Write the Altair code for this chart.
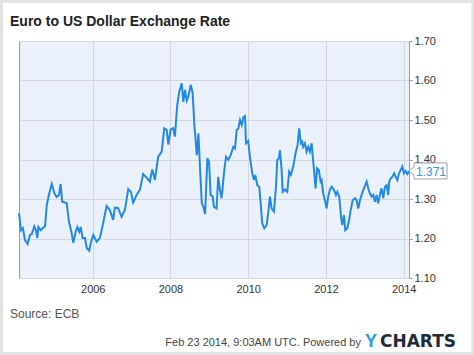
import altair as alt
import pandas as pd

title_text = "Euro to US Dollar Exchange Rate"
source_text = "Source: ECB"
footer_text = "Feb 23 2014, 9:03AM UTC.  Powered by"

dates = [
    "2004-02-08", "2004-02-27", "2004-03-16", "2004-04-04", "2004-04-29", "2004-05-21", "2004-06-07", "2004-07-01",
    "2004-07-17", "2004-07-29", "2004-08-08", "2004-08-30", "2004-09-24", "2004-10-10", "2004-10-26", "2004-11-19",
    "2004-12-12",
    "2005-01-05", "2005-01-27", "2005-02-18", "2005-03-05", "2005-03-20", "2005-04-15", "2005-05-01", "2005-05-22",
    "2005-06-17", "2005-07-02", "2005-07-25", "2005-08-09", "2005-08-28", "2005-09-10", "2005-09-28", "2005-10-20",
    "2005-11-05", "2005-11-29", "2005-12-15",
    "2006-01-06", "2006-02-07", "2006-03-09", "2006-04-09", "2006-05-11", "2006-06-11", "2006-07-12", "2006-07-28",
    "2006-08-28", "2006-09-29", "2006-10-30", "2006-12-01", "2006-12-26",
    "2007-01-16", "2007-02-17", "2007-03-20", "2007-04-20", "2007-05-22", "2007-06-22", "2007-07-14", "2007-08-08",
    "2007-09-08", "2007-10-11", "2007-11-04", "2007-11-27", "2007-12-12",
    "2008-01-03", "2008-01-27", "2008-02-12", "2008-03-05", "2008-03-24", "2008-04-16", "2008-05-01", "2008-05-17",
    "2008-06-02", "2008-06-17", "2008-07-10", "2008-07-28", "2008-08-13", "2008-09-05", "2008-09-20", "2008-10-06",
    "2008-10-22", "2008-11-06", "2008-11-22", "2008-12-13", "2008-12-29",
    "2009-01-13", "2009-02-01", "2009-02-13", "2009-03-10", "2009-03-25", "2009-04-10", "2009-04-26", "2009-05-18",
    "2009-06-06", "2009-06-28", "2009-07-20", "2009-08-14", "2009-08-30", "2009-09-15", "2009-09-30", "2009-10-16",
    "2009-11-01", "2009-11-16", "2009-12-02", "2009-12-11",
    "2010-01-01", "2010-01-17", "2010-02-08", "2010-02-24", "2010-03-08", "2010-03-27", "2010-04-15", "2010-04-28",
    "2010-05-13", "2010-06-01", "2010-06-23", "2010-07-08", "2010-07-24", "2010-08-09", "2010-08-31", "2010-09-19",
    "2010-10-01", "2010-10-17", "2010-10-26", "2010-11-11", "2010-11-21", "2010-12-12",
    "2011-01-03", "2011-01-21", "2011-02-06", "2011-02-28", "2011-03-22", "2011-04-10", "2011-04-25", "2011-05-11",
    "2011-05-23", "2011-06-02", "2011-06-18", "2011-07-04", "2011-07-19", "2011-08-04", "2011-08-20", "2011-09-04",
    "2011-09-13", "2011-09-26", "2011-10-11", "2011-10-27", "2011-11-12", "2011-11-22", "2011-12-07", "2011-12-26",
    "2012-01-08", "2012-01-23", "2012-02-08", "2012-02-24", "2012-03-17", "2012-04-05", "2012-04-17", "2012-05-06",
    "2012-05-22", "2012-06-03", "2012-06-19", "2012-07-01", "2012-07-20", "2012-08-05", "2012-08-21", "2012-09-09",
    "2012-09-30", "2012-10-16", "2012-10-31", "2012-11-16", "2012-12-11",
    "2013-01-02", "2013-01-18", "2013-02-02", "2013-02-18", "2013-03-06", "2013-03-21", "2013-04-06", "2013-04-21",
    "2013-05-06", "2013-05-22", "2013-06-07", "2013-06-23", "2013-07-09", "2013-07-25", "2013-08-09", "2013-08-18",
    "2013-08-31", "2013-09-15", "2013-10-04", "2013-10-18", "2013-11-02", "2013-11-18", "2013-12-04", "2013-12-19",
    "2014-01-03", "2014-01-19", "2014-02-04", "2014-02-20",
]

values = [
    1.264, 1.221, 1.226, 1.196, 1.186, 1.209, 1.211, 1.231, 1.221, 1.201, 1.229, 1.221, 1.228, 1.231, 1.285, 1.315,
    1.338,
    1.315, 1.305, 1.310, 1.338, 1.293, 1.291, 1.290, 1.243, 1.214, 1.189, 1.217, 1.229, 1.217, 1.229, 1.201, 1.201,
    1.176, 1.169, 1.190,
    1.209, 1.192, 1.201, 1.239, 1.282, 1.272, 1.247, 1.278, 1.277, 1.255, 1.272, 1.325, 1.318,
    1.291, 1.310, 1.323, 1.363, 1.354, 1.344, 1.375, 1.348, 1.407, 1.420, 1.479, 1.475, 1.438,
    1.476, 1.479, 1.458, 1.538, 1.572, 1.593, 1.546, 1.576, 1.549, 1.559, 1.589, 1.568, 1.487, 1.411, 1.466, 1.373,
    1.289, 1.280, 1.262, 1.403, 1.394,
    1.310, 1.306, 1.280, 1.276, 1.356, 1.323, 1.302, 1.365, 1.407, 1.399, 1.411, 1.432, 1.428, 1.475, 1.478, 1.500,
    1.487, 1.507, 1.510, 1.441,
    1.447, 1.407, 1.365, 1.348, 1.361, 1.335, 1.331, 1.289, 1.238, 1.226, 1.234, 1.264, 1.306, 1.276, 1.268, 1.331,
    1.399, 1.403, 1.424, 1.373, 1.318, 1.324,
    1.318, 1.369, 1.361, 1.382, 1.416, 1.437, 1.479, 1.441, 1.445, 1.432, 1.441, 1.420, 1.432, 1.420, 1.441, 1.394,
    1.369, 1.327, 1.378, 1.373, 1.344, 1.348, 1.314, 1.293,
    1.276, 1.306, 1.324, 1.331, 1.323, 1.310, 1.318, 1.306, 1.255, 1.234, 1.259, 1.221, 1.226, 1.245, 1.272, 1.297,
    1.302, 1.297, 1.276, 1.297, 1.318,
    1.333, 1.344, 1.327, 1.314, 1.306, 1.310, 1.293, 1.310, 1.289, 1.310, 1.327, 1.302, 1.331, 1.335, 1.310, 1.344,
    1.352, 1.356, 1.365, 1.356, 1.348, 1.365, 1.373, 1.382,
    1.365, 1.371, 1.363, 1.371,
]

y_ticks = [1.10, 1.20, 1.30, 1.40, 1.50, 1.60, 1.70]
x_tick_years = [2006, 2008, 2010, 2012, 2014]

df = pd.DataFrame({"date": dates, "value": values})
last_df = df.tail(1)

FONT = "Liberation Sans"
LINE_BLUE = "#2189e3"

x_scale = alt.Scale(
    domain=[alt.DateTime(year=2004, month=2, date=8, utc=True),
            alt.DateTime(year=2014, month=2, date=20, utc=True)]
)
y_scale = alt.Scale(domain=[1.10, 1.70], zero=False, nice=False)

x_enc = alt.X(
    "date:T",
    scale=x_scale,
    title=None,
    axis=alt.Axis(
        values=[alt.DateTime(year=yr, month=1, date=1, utc=True) for yr in x_tick_years],
        format="%Y",
        grid=True,
        gridColor="#d3d8e0",
        domain=False,
        ticks=False,
        labelPadding=5,
        labelFlush=False,
        labelOverlap=False,
        labelFont=FONT,
        labelFontSize=11,
        labelColor="#333333",
    ),
)
y_enc = alt.Y(
    "value:Q",
    scale=y_scale,
    title=None,
    axis=alt.Axis(
        orient="right",
        values=y_ticks,
        tickCount=7,
        format=".2f",
        grid=True,
        gridColor="#d3d8e0",
        domain=False,
        ticks=True,
        tickSize=3,
        tickColor="#999999",
        labelPadding=2,
        labelOverlap=False,
        labelFlush=False,
        labelFont=FONT,
        labelFontSize=11,
        labelColor="#333333",
    ),
)

base = alt.Chart(df)

line = base.mark_line(color=LINE_BLUE, strokeWidth=2).encode(x=x_enc, y=y_enc)

badge = alt.Chart(last_df).mark_point(
    shape="M0,0 L0.625,-0.5 L0.625,-1 L4.75,-1 L4.75,1 L0.625,1 L0.625,0.5 Z",
    size=256,
    filled=True,
    fill="white",
    stroke="#a0a0a0",
    strokeWidth=1,
    opacity=1,
).encode(x=x_enc, y=y_enc)

badge_text = alt.Chart(last_df).mark_text(
    dx=22, dy=1, align="center", baseline="middle", font=FONT, fontSize=12, color="#3a8fe3"
).encode(x=x_enc, y=y_enc, text=alt.Text("value:Q", format=".3f"))

ann = alt.Chart(pd.DataFrame({"k": [0]}))

frame = ann.mark_rect(fillOpacity=0, stroke="#e2e2e2", strokeWidth=3).encode(
    x=alt.value(-17.5), x2=alt.value(454), y=alt.value(-39.5), y2=alt.value(312.5)
)

title = ann.mark_text(
    align="left", baseline="alphabetic", font=FONT, fontSize=14, fontWeight="bold", color="#222222"
).encode(x=alt.value(-9), y=alt.value(-15), text=alt.value(title_text))

source = ann.mark_text(
    align="left", baseline="alphabetic", font=FONT, fontSize=12, color="#555555"
).encode(x=alt.value(-9), y=alt.value(277), text=alt.value(source_text))

footer = ann.mark_text(
    align="right", baseline="alphabetic", font=FONT, fontSize=11, color="#444444"
).encode(x=alt.value(342), y=alt.value(305), text=alt.value(footer_text))

logo_y = ann.mark_text(
    align="left", baseline="alphabetic", font=FONT, fontSize=18, fontWeight="bold", color="#2a9be3"
).encode(x=alt.value(346), y=alt.value(306), text=alt.value("Y"))

logo_rest = ann.mark_text(
    align="left", baseline="alphabetic", font="DejaVu Sans", fontSize=17, fontWeight="bold", color="#1d2b3a"
).encode(x=alt.value(361), y=alt.value(306), text=alt.value("CHARTS"))

chart = alt.layer(
    line, badge, badge_text, frame, title, source, footer, logo_y, logo_rest
).properties(
    width=390,
    height=237,
    autosize=alt.AutoSizeParams(type="none"),
    padding={"left": 19, "top": 41, "right": 65, "bottom": 77},
    background="white",
).configure_view(
    fill="#eaf1fb", stroke="#9c9c9c", strokeWidth=1
)

chart.save("out.html", embed_options={"renderer": "svg", "actions": False})
